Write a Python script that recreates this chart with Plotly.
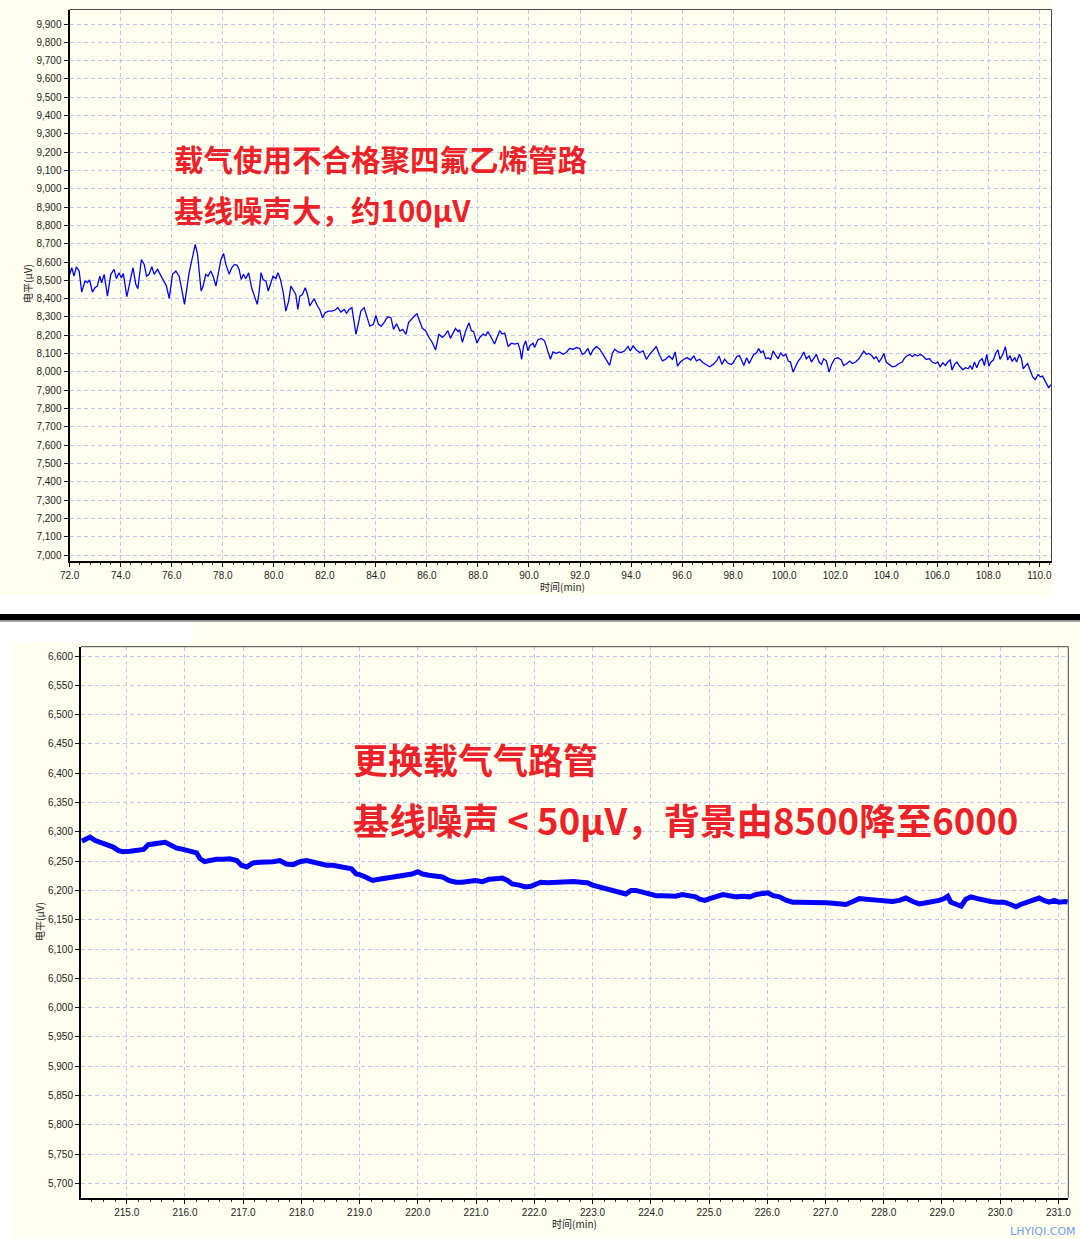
import plotly.graph_objects as go

W, H = 1080, 1239

# ---------------- data ----------------
top_time = [
    72.00, 72.08, 72.17, 72.26, 72.37, 72.47, 72.60, 72.69, 72.78, 72.89, 72.99, 73.08, 73.18, 73.25, 73.35,
    73.48, 73.61, 73.74, 73.83, 73.93, 74.03, 74.10, 74.24, 74.37, 74.48, 74.59, 74.67, 74.81, 74.92, 75.01,
    75.11, 75.22, 75.31, 75.44, 75.57, 75.70, 75.79, 75.90, 76.03, 76.16, 76.29, 76.39, 76.50, 76.68, 76.81,
    76.92, 77.01, 77.07, 77.15, 77.23, 77.33, 77.42, 77.53, 77.62, 77.73, 77.83, 77.93, 78.03, 78.12, 78.25,
    78.35, 78.46, 78.56, 78.64, 78.72, 78.81, 78.90, 79.01, 79.14, 79.24, 79.35, 79.42, 79.50, 79.58, 79.69,
    79.78, 79.88, 79.97, 80.08, 80.16, 80.26, 80.37, 80.47, 80.58, 80.67, 80.77, 80.86, 80.94, 81.02, 81.12,
    81.23, 81.32, 81.41, 81.52, 81.58, 81.71, 81.80, 81.91, 82.01, 82.14, 82.27, 82.40, 82.51, 82.63, 82.76,
    82.85, 82.95, 83.06, 83.14, 83.22, 83.32, 83.41, 83.54, 83.63, 83.76, 83.90, 84.00, 84.10, 84.21, 84.33,
    84.46, 84.59, 84.69, 84.81, 84.94, 85.05, 85.18, 85.28, 85.41, 85.54, 85.61, 85.71, 85.82, 85.95, 86.08,
    86.21, 86.34, 86.47, 86.60, 86.69, 86.82, 86.92, 87.02, 87.12, 87.22, 87.28, 87.39, 87.52, 87.65, 87.74,
    87.83, 87.96, 88.07, 88.20, 88.30, 88.39, 88.52, 88.65, 88.75, 88.85, 88.95, 89.05, 89.18, 89.31, 89.44,
    89.57, 89.66, 89.71, 89.79, 89.87, 89.96, 90.05, 90.16, 90.22, 90.35, 90.48, 90.61, 90.75, 90.84, 90.94,
    91.07, 91.20, 91.33, 91.46, 91.59, 91.73, 91.86, 91.99, 92.09, 92.18, 92.31, 92.41, 92.51, 92.64, 92.77,
    92.90, 93.03, 93.16, 93.27, 93.36, 93.49, 93.62, 93.75, 93.88, 93.97, 94.08, 94.21, 94.34, 94.47, 94.60,
    94.73, 94.86, 94.99, 95.10, 95.23, 95.36, 95.49, 95.62, 95.73, 95.82, 95.93, 96.07, 96.20, 96.33, 96.46,
    96.56, 96.69, 96.82, 96.95, 97.08, 97.22, 97.35, 97.45, 97.56, 97.67, 97.80, 97.93, 98.00, 98.14, 98.24,
    98.33, 98.42, 98.53, 98.63, 98.72, 98.81, 98.92, 99.00, 99.09, 99.18, 99.28, 99.37, 99.47, 99.57, 99.67,
    99.77, 99.86, 99.96, 100.07, 100.16, 100.25, 100.35, 100.46, 100.55, 100.65, 100.77, 100.87, 100.98, 101.07, 101.16,
    101.26, 101.37, 101.46, 101.55, 101.66, 101.76, 101.86, 101.98, 102.11, 102.24, 102.33, 102.46, 102.57, 102.67, 102.80,
    102.93, 103.02, 103.12, 103.22, 103.32, 103.43, 103.52, 103.61, 103.72, 103.81, 103.91, 104.00, 104.11, 104.24, 104.37,
    104.50, 104.63, 104.72, 104.81, 104.92, 105.02, 105.12, 105.24, 105.33, 105.44, 105.57, 105.70, 105.80, 105.93, 106.02,
    106.11, 106.22, 106.32, 106.41, 106.51, 106.58, 106.68, 106.77, 106.87, 107.00, 107.11, 107.21, 107.29, 107.37, 107.46,
    107.55, 107.65, 107.76, 107.85, 107.94, 108.02, 108.11, 108.20, 108.30, 108.38, 108.46, 108.57, 108.67, 108.76, 108.85,
    108.93, 109.04, 109.11, 109.22, 109.30, 109.37, 109.45, 109.54, 109.63, 109.74, 109.84, 109.95, 110.05, 110.13, 110.21,
    110.29, 110.37, 110.45,
]
top_level = [
    8533, 8569, 8523, 8574, 8551, 8436, 8496, 8487, 8502, 8436, 8460, 8469, 8523, 8487, 8533,
    8414, 8533, 8560, 8509, 8542, 8514, 8538, 8411, 8505, 8569, 8478, 8454, 8614, 8587, 8523,
    8533, 8574, 8533, 8560, 8523, 8491, 8469, 8402, 8533, 8551, 8523, 8451, 8369, 8542, 8633,
    8696, 8642, 8542, 8442, 8469, 8533, 8523, 8551, 8523, 8469, 8542, 8614, 8647, 8587, 8533,
    8569, 8587, 8582, 8560, 8505, 8533, 8509, 8542, 8454, 8414, 8369, 8432, 8542, 8505, 8496,
    8442, 8487, 8523, 8509, 8542, 8505, 8432, 8332, 8387, 8469, 8442, 8423, 8341, 8414, 8423,
    8460, 8423, 8360, 8387, 8400, 8360, 8341, 8296, 8323, 8332, 8332, 8338, 8351, 8327, 8341,
    8320, 8341, 8351, 8278, 8205, 8269, 8332, 8351, 8309, 8250, 8260, 8309, 8260, 8250, 8272,
    8301, 8296, 8232, 8263, 8223, 8232, 8205, 8269, 8291, 8309, 8317, 8280, 8238, 8225, 8188,
    8161, 8120, 8207, 8188, 8198, 8225, 8183, 8212, 8238, 8220, 8231, 8161, 8225, 8268, 8225,
    8220, 8157, 8188, 8207, 8198, 8220, 8188, 8152, 8188, 8225, 8207, 8212, 8139, 8157, 8152,
    8157, 8115, 8069, 8142, 8170, 8115, 8146, 8157, 8133, 8176, 8183, 8170, 8115, 8069, 8109,
    8102, 8109, 8096, 8106, 8128, 8124, 8133, 8128, 8096, 8102, 8128, 8091, 8120, 8139, 8124,
    8096, 8069, 8036, 8102, 8124, 8109, 8106, 8115, 8139, 8115, 8142, 8120, 8106, 8115, 8069,
    8096, 8120, 8139, 8096, 8060, 8069, 8087, 8069, 8109, 8032, 8054, 8069, 8078, 8065, 8087,
    8060, 8069, 8050, 8041, 8028, 8041, 8060, 8087, 8041, 8069, 8047, 8041, 8050, 8083, 8090,
    8065, 8035, 8077, 8046, 8072, 8096, 8105, 8127, 8105, 8114, 8072, 8077, 8068, 8114, 8090,
    8072, 8105, 8087, 8096, 8059, 8054, 7999, 8032, 8059, 8077, 8109, 8072, 8087, 8054, 8072,
    8096, 8054, 8041, 8072, 8059, 7999, 8041, 8072, 8077, 8065, 8035, 8046, 8059, 8046, 8054,
    8072, 8090, 8114, 8096, 8101, 8090, 8072, 8083, 8054, 8072, 8101, 8054, 8041, 8028, 8032,
    8046, 8054, 8077, 8087, 8096, 8083, 8096, 8087, 8096, 8087, 8068, 8072, 8054, 8046, 8054,
    8028, 8050, 8035, 8054, 8065, 8010, 8041, 8054, 8032, 8013, 8023, 8017, 8035, 8013, 8054,
    8023, 8059, 8072, 8035, 8096, 8032, 8054, 8065, 8105, 8120, 8068, 8096, 8138, 8065, 8090,
    8059, 8077, 8054, 8096, 8072, 8017, 8032, 8046, 8013, 7973, 7958, 7986, 7973, 7977, 7955,
    7931, 7913, 7931,
]

bottom_time = [
    214.23, 214.31, 214.37, 214.46, 214.54, 214.66, 214.77, 214.86, 214.94, 215.06, 215.17, 215.29, 215.37, 215.46, 215.57,
    215.66, 215.74, 215.86, 215.97, 216.09, 216.20, 216.26, 216.34, 216.43, 216.54, 216.66, 216.77, 216.89, 216.97, 217.06,
    217.17, 217.29, 217.40, 217.51, 217.63, 217.74, 217.86, 217.97, 218.09, 218.20, 218.31, 218.43, 218.54, 218.66, 218.77,
    218.86, 218.94, 219.00, 219.10, 219.22, 219.33, 219.45, 219.56, 219.68, 219.79, 219.90, 220.00, 220.08, 220.19, 220.31,
    220.42, 220.53, 220.65, 220.76, 220.88, 220.99, 221.11, 221.22, 221.34, 221.45, 221.54, 221.62, 221.74, 221.85, 221.94,
    222.02, 222.11, 222.22, 222.34, 222.45, 222.57, 222.68, 222.80, 222.91, 223.00, 223.11, 223.23, 223.34, 223.46, 223.57,
    223.66, 223.74, 223.86, 223.97, 224.09, 224.20, 224.32, 224.43, 224.54, 224.66, 224.77, 224.84, 224.93, 225.01, 225.13,
    225.24, 225.35, 225.47, 225.58, 225.70, 225.81, 225.93, 226.01, 226.10, 226.21, 226.33, 226.44, 226.55, 226.67, 226.78,
    226.90, 227.01, 227.13, 227.24, 227.35, 227.47, 227.58, 227.70, 227.81, 227.93, 228.04, 228.15, 228.27, 228.38, 228.50,
    228.61, 228.73, 228.84, 228.95, 229.04, 229.10, 229.15, 229.24, 229.33, 229.41, 229.50, 229.61, 229.73, 229.84, 229.95,
    230.07, 230.18, 230.27, 230.35, 230.47, 230.58, 230.67, 230.75, 230.84, 230.93, 231.01, 231.12, 231.16,
]
bottom_level = [
    6284, 6287, 6291, 6285, 6282, 6278, 6274, 6268, 6266, 6267, 6268, 6270, 6278, 6280, 6281,
    6282, 6277, 6272, 6270, 6266, 6264, 6254, 6249, 6251, 6253, 6253, 6254, 6251, 6243, 6240,
    6247, 6248, 6248, 6249, 6251, 6245, 6244, 6249, 6251, 6248, 6245, 6243, 6243, 6241, 6240,
    6237, 6228, 6227, 6223, 6217, 6219, 6221, 6223, 6224, 6227, 6228, 6232, 6228, 6226, 6224,
    6223, 6217, 6214, 6214, 6215, 6217, 6215, 6219, 6220, 6221, 6217, 6211, 6209, 6206, 6207,
    6210, 6214, 6213, 6214, 6214, 6214, 6215, 6214, 6213, 6209, 6206, 6203, 6200, 6197, 6194,
    6200, 6200, 6197, 6194, 6191, 6191, 6190, 6190, 6193, 6191, 6189, 6185, 6183, 6186, 6189,
    6193, 6191, 6189, 6190, 6189, 6193, 6196, 6196, 6191, 6189, 6183, 6180, 6180, 6180, 6181,
    6180, 6179, 6178, 6177, 6176, 6181, 6186, 6185, 6185, 6183, 6182, 6181, 6183, 6187, 6181,
    6177, 6179, 6180, 6183, 6186, 6190, 6180, 6177, 6173, 6185, 6189, 6186, 6183, 6181, 6180,
    6180, 6176, 6172, 6176, 6180, 6183, 6187, 6183, 6180, 6183, 6180, 6181, 6180,
]

top_title_lines = ["载气使用不合格聚四氟乙烯管路", "基线噪声大，约100μV"]
bottom_title_lines = ["更换载气气路管", "基线噪声 &lt; 50μV，背景由8500降至6000"]
y_axis_label = "电平(μV)"
x_axis_label = "时间(min)"
watermark = "LHYIQI.COM"

# ---------------- styling ----------------
IVORY = "#FFFFF0"
GRID = "#C4C4F2"
RED = "#EE2128"
TICKFONT = dict(family="Liberation Sans, Arial, sans-serif", size=10, color="#222222")
CJK = "Noto Sans CJK SC"


def px_x(p):
    return p / W


def px_y(p):
    return 1 - p / H


fig = go.Figure()
fig.add_trace(go.Scatter(x=top_time, y=top_level, mode="lines",
                         line=dict(color="#0000FF", width=1.3), xaxis="x", yaxis="y",
                         hoverinfo="skip"))
fig.add_trace(go.Scatter(x=bottom_time, y=bottom_level, mode="lines",
                         line=dict(color="#0000FF", width=5), xaxis="x2", yaxis="y2",
                         hoverinfo="skip"))


def xaxis_style(domain, rng, tick0, dtick, minor_dtick, anchor):
    return dict(domain=domain, range=rng, anchor=anchor, tick0=tick0, dtick=dtick,
                tickformat=".1f", tickfont=TICKFONT, ticks="outside", ticklen=4,
                tickcolor="#111111", tickwidth=1,
                showline=True, linecolor="#000000", linewidth=2, mirror=False,
                showgrid=True, gridcolor=GRID, griddash="4px,3px", gridwidth=1,
                zeroline=False, fixedrange=True, automargin=False,
                minor=dict(tick0=tick0, dtick=minor_dtick, ticks="outside", ticklen=2,
                           tickcolor="#333333", showgrid=False))


def yaxis_style(domain, rng, tick0, dtick, anchor):
    return dict(domain=domain, range=rng, anchor=anchor, tick0=tick0, dtick=dtick,
                tickformat=",d", tickfont=TICKFONT, ticks="outside", ticklen=4,
                tickcolor="#111111", tickwidth=1,
                showline=True, linecolor="#000000", linewidth=2, mirror=False,
                showgrid=True, gridcolor=GRID, griddash="4px,3px", gridwidth=1,
                zeroline=False, fixedrange=True, automargin=False)


fig.update_layout(
    width=W, height=H, autosize=False,
    margin=dict(l=0, r=0, t=0, b=0, pad=0, autoexpand=False),
    paper_bgcolor="#FFFFFF",
    plot_bgcolor="rgba(0,0,0,0)",
    showlegend=False,
    hovermode=False,
    xaxis=xaxis_style([px_x(69.5), px_x(1051.5)], [71.992, 110.478], 72, 2, 0.4, "y"),
    yaxis=yaxis_style([px_y(561), px_y(9.5)], [6967.4, 9979.2], 7000, 100, "x"),
    xaxis2=xaxis_style([px_x(81), px_x(1068.3)], [214.215, 231.17], 215, 1, 0.2, "y2"),
    yaxis2=yaxis_style([px_y(1197.7), px_y(646.7)], [5675.6, 6615.9], 5700, 50, "x2"),
)

shapes = []
# background panels
shapes.append(dict(type="rect", xref="paper", yref="paper", x0=0, x1=px_x(1052), y0=px_y(595), y1=1,
                   fillcolor=IVORY, line=dict(width=0), layer="below"))
shapes.append(dict(type="rect", xref="paper", yref="paper", x0=px_x(193), x1=1, y0=px_y(643), y1=px_y(621.5),
                   fillcolor=IVORY, line=dict(width=0), layer="below"))
shapes.append(dict(type="rect", xref="paper", yref="paper", x0=px_x(11), x1=1, y0=0, y1=px_y(643),
                   fillcolor=IVORY, line=dict(width=0), layer="below"))
# black separator bar
shapes.append(dict(type="rect", xref="paper", yref="paper", x0=0, x1=1, y0=px_y(620.5), y1=px_y(614),
                   fillcolor="#000000", line=dict(width=0), layer="above"))
shapes.append(dict(type="rect", xref="paper", yref="paper", x0=0, x1=1, y0=px_y(622), y1=px_y(620.5),
                   fillcolor="#A8A8A8", line=dict(width=0), layer="above"))
# thin top/right borders of the plot frames
for xa, ya in (("x", "y"), ("x2", "y2")):
    shapes.append(dict(type="line", xref=f"{xa} domain", yref=f"{ya} domain", x0=0, x1=1, y0=1, y1=1,
                       line=dict(color="#444444", width=1), layer="above"))
    shapes.append(dict(type="line", xref=f"{xa} domain", yref=f"{ya} domain", x0=1, x1=1, y0=0, y1=1,
                       line=dict(color="#444444", width=1), layer="above"))
fig.update_layout(shapes=shapes)

ann = []
# axis titles
ann.append(dict(text=y_axis_label, xref="paper", yref="paper", x=px_x(28), y=px_y(284), textangle=-90,
                showarrow=False, xanchor="center", yanchor="middle",
                font=dict(family=CJK, size=10, color="#222222")))
ann.append(dict(text=x_axis_label, xref="paper", yref="paper", x=px_x(562), y=px_y(586),
                showarrow=False, xanchor="center", yanchor="middle",
                font=dict(family=CJK, size=10, color="#222222")))
ann.append(dict(text=y_axis_label, xref="paper", yref="paper", x=px_x(39), y=px_y(921), textangle=-90,
                showarrow=False, xanchor="center", yanchor="middle",
                font=dict(family=CJK, size=10, color="#222222")))
ann.append(dict(text=x_axis_label, xref="paper", yref="paper", x=px_x(574), y=px_y(1223),
                showarrow=False, xanchor="center", yanchor="middle",
                font=dict(family=CJK, size=10, color="#222222")))
# red captions
for txt, yy in zip(top_title_lines, (158, 209)):
    ann.append(dict(text=txt, xref="paper", yref="paper", x=px_x(172), y=px_y(yy),
                    showarrow=False, xanchor="left", yanchor="middle",
                    font=dict(family=CJK, size=29.5, color=RED, weight="bold")))
for txt, yy, sz in zip(bottom_title_lines, (759, 819), (35, 36.5)):
    ann.append(dict(text=txt, xref="paper", yref="paper", x=px_x(351), y=px_y(yy),
                    showarrow=False, xanchor="left", yanchor="middle",
                    font=dict(family=CJK, size=sz, color=RED, weight="bold")))
# watermark
ann.append(dict(text=watermark, xref="paper", yref="paper", x=px_x(1078), y=px_y(1231),
                showarrow=False, xanchor="right", yanchor="middle",
                font=dict(family="DejaVu Sans, sans-serif", size=11, color="#6F9EE6")))
fig.update_layout(annotations=ann)

fig.write_html(
    "out.html",
    config={"responsive": False, "displayModeBar": False},
    post_script="document.body.style.margin='0';document.body.style.overflow='hidden';",
)
